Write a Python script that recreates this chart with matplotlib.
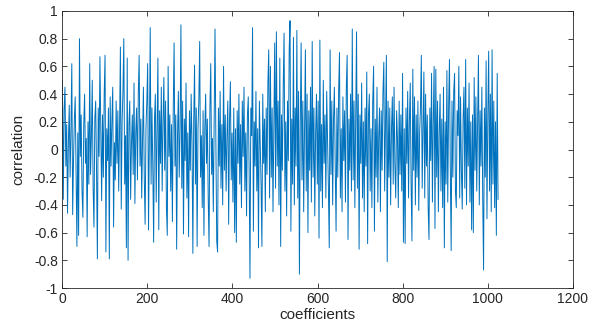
import numpy as np
import matplotlib
matplotlib.use("Agg")
import matplotlib.pyplot as plt

# correlation per coefficient (every 2nd coefficient, 1..1024), in hundredths,
# read off the figure
corr_pct = [
    50, -36, 28, 45, -12, 18, -46, 5, 32, -20, 14, 62, -47, -8, 22, 38, -15, -70, 12, -62, 80, -5, 25, -30, -49, 18, 40, -10, 8, -63, 20, -25,
    62, -18, 10, 50, -28, -56, 22, 35, -15, -79, 30, -5, 67, 12, -37, 25, -20, 40, 68, -74, 15, -8, 30, -79, 38, -12, 20, 45, -56, 5, -22, 35,
    -10, 28, -30, 15, 74, -43, 20, 42, 80, -25, 10, -71, 66, -80, 18, 35, -36, 5, 25, -18, 48, -39, 12, 30, -22, 40, 68, -12, 22, -35, 8, 45,
    -20, -54, 15, 35, 62, -58, 10, 88, -25, 30, -12, -67, 22, 40, -38, 15, 66, -58, 28, -10, 45, -30, 20, 52, -15, 35, -42, -62, 60, -5, 25, -30,
    18, -52, 30, 77, -12, 25, -72, 10, 42, -20, 15, 90, -28, 35, -61, 22, -8, 48, -35, 12, -63, 28, -15, 40, 5, -75, 20, 61, -25, 30, -70, 15,
    35, 78, -20, 10, -42, 28, -62, 15, 40, -10, 22, -35, -70, 30, 62, -18, 8, -45, 25, 87, 5, -66, -74, 30, -12, 42, -28, 18, -40, 60, -15, 25,
    -30, 10, 35, -54, 20, 49, -22, 12, -38, 30, -60, 15, -67, 28, -10, 40, -25, 18, -42, 35, -5, 45, -30, 12, -48, 25, 38, -15, -93, 30, 10, 88,
    -59, 20, -12, 42, -30, 15, -71, 35, 5, -25, -70, 40, -10, 22, -45, 30, -18, 48, 72, -35, 60, -20, 30, -45, 15, 77, -28, 85, -12, 35, -40, 66,
    -70, 25, -15, 45, 84, -30, 20, -48, 35, -8, 72, 93, -59, 22, -25, 81, -40, 30, -12, 86, -35, 42, -90, 18, 77, -22, 35, -45, 10, 72, -30, 40,
    -60, 28, -15, 45, -38, 78, -20, 30, -48, 12, 40, -25, 35, -64, 79, -30, 18, -42, 50, -10, 25, -35, 42, 8, -28, -71, 72, -18, 35, -40, 22, 45,
    -12, -59, 30, -20, 42, 70, -35, 15, -45, 38, -8, 28, -38, 45, 68, -65, 22, -15, 40, -30, 87, -22, 35, -42, 18, 85, -28, 40, -72, 25, -10, 48,
    -35, 20, -45, 30, -12, 56, -68, 25, 40, -30, 15, -42, 35, 60, -59, 22, -20, 45, -38, 10, 30, -45, 28, -15, 42, 63, -30, 20, 68, -81, 35, -20,
    30, -40, 15, 38, -25, 45, -12, -35, 28, 8, -42, 35, -18, 25, -30, 55, -67, 15, -68, 30, -10, 42, -35, 20, 48, -25, -66, 58, -15, 38, -40, 25,
    -20, 35, -44, 12, 30, 68, -28, 15, 56, -35, 40, -12, 25, -42, -65, 30, -8, 55, -38, 20, 60, -57, 58, -20, 35, -45, 12, 40, -30, 22, -42, 45,
    -71, 20, -25, 57, -38, 30, 65, -15, -73, 35, -20, 42, 55, -30, -42, 28, 10, 60, -35, 38, -15, -43, 22, 45, -28, 65, -40, 30, -12, 48, -38, 20,
    -58, 25, -60, 52, -15, 38, -30, 20, 68, -40, 28, -12, 45, -35, -87, 30, -20, 64, -50, 25, 71, -30, 40, -45, 72, -25, 35, -42, 20, -62, 55, -36,
]

x_ticks = [0, 200, 400, 600, 800, 1000, 1200]
y_ticks = [-1, -0.8, -0.6, -0.4, -0.2, 0, 0.2, 0.4, 0.6, 0.8, 1]

plt.rcParams['font.family'] = ['Liberation Sans', 'DejaVu Sans']
plt.rcParams['axes.unicode_minus'] = False

corr = np.array(corr_pct) / 100.0
coeff = np.linspace(1, 1024, len(corr))

fig = plt.figure(figsize=(5.94, 3.24), dpi=100)
ax = fig.add_axes([62 / 594, 36 / 324, 511 / 594, 277 / 324])
ax.plot(coeff, corr, color='#0072BD', linewidth=0.7)

ax.set_xlim(0, 1200)
ax.set_ylim(-1, 1)
ax.set_xticks(x_ticks)
ax.set_yticks(y_ticks)
ax.set_yticklabels(['%g' % v for v in y_ticks])
ax.tick_params(direction='in', top=True, right=True, length=3.5, width=0.6,
               labelsize=10, colors='#262626', pad=3)
for s in ax.spines.values():
    s.set_color('#262626')
    s.set_linewidth(0.6)

ax.set_xlabel('coefficients', fontsize=11, color='#262626', labelpad=1)
ax.set_ylabel('correlation', fontsize=11, color='#262626', labelpad=6)

fig.savefig('out.png', dpi=100)
